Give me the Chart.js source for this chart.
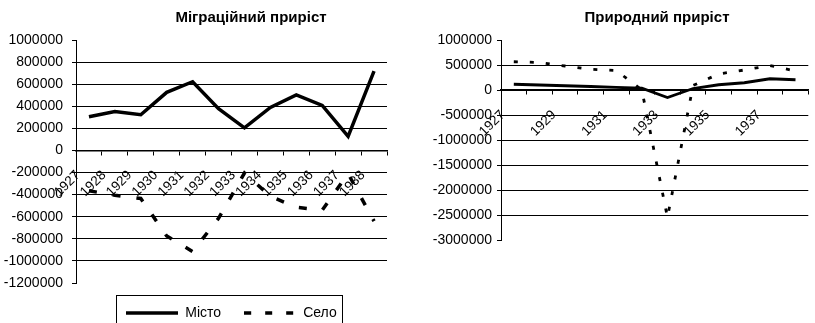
<!DOCTYPE html>
<html>
<head>
<meta charset="utf-8">
<script src="https://cdn.jsdelivr.net/npm/chart.js@4/dist/chart.umd.min.js"></script>
<style>
  html, body { margin: 0; padding: 0; background: #fff; overflow: hidden; }
  #wrap { position: relative; width: 815px; height: 323px; overflow: hidden; background: #fff; }
  #migChart { position: absolute; left: 0; top: 0; }
  #natChart { position: absolute; left: 400px; top: 0; }
</style>
</head>
<body>
<div id="wrap">
  <canvas id="migChart" width="400" height="340"></canvas>
  <canvas id="natChart" width="420" height="323"></canvas>
</div>
<script>
// values
const YEARS = ['1927', '1928', '1929', '1930', '1931', '1932', '1933', '1934', '1935', '1936', '1937', '1938'];
const NAT_TICKS = ['1927', '', '1929', '', '1931', '', '1933', '', '1935', '', '1937', ''];

const MIG_CITY = [305000, 352000, 323000, 526000, 622000, 378000, 205000, 390000, 503000, 408000, 128000, 718000];
const MIG_VILLAGE = [-365000, -405000, -435000, -775000, -915000, -615000, -205000, -415000, -515000, -540000, -210000, -640000];

const NAT_CITY = [115000, 100000, 85000, 70000, 52000, 35000, -150000, 30000, 105000, 145000, 225000, 205000];
const NAT_VILLAGE = [565000, 550000, 480000, 415000, 390000, 0, -2550000, 90000, 320000, 400000, 490000, 380000];

const SERIES_NAMES = ['Місто', 'Село'];

Chart.defaults.font.family = '"Liberation Sans", Arial, sans-serif';
Chart.defaults.color = '#000';

// title drawn at a chosen centre, Excel did not centre it on the plot
const sideTitle = {
  id: 'sideTitle',
  afterDraw(chart, args, opts) {
    const ctx = chart.ctx;
    ctx.save();
    ctx.font = 'bold 15px "Liberation Sans", Arial, sans-serif';
    ctx.fillStyle = '#000';
    ctx.textAlign = 'center';
    ctx.textBaseline = 'middle';
    ctx.fillText(opts.text, opts.x, opts.y);
    ctx.restore();
  }
};

// thin frame round the legend, as in the original
const legendFrame = {
  id: 'legendFrame',
  afterDraw(chart) {
    const lg = chart.legend;
    if (!lg || !lg.legendHitBoxes || !lg.legendHitBoxes.length) return;
    const boxes = lg.legendHitBoxes;
    const left = Math.min(...boxes.map(b => b.left)) - 10;
    const right = Math.max(...boxes.map(b => b.left + b.width)) + 6;
    const top = boxes[0].top - 11;
    const ctx = chart.ctx;
    ctx.save();
    ctx.strokeStyle = '#000';
    ctx.lineWidth = 1;
    ctx.strokeRect(Math.round(left) + 0.5, Math.round(top) + 0.5, Math.round(right - left), 60);
    ctx.restore();
  }
};

// legend swatches: the built-in 'line' point style ignores the dash
function swatch(width, dash) {
  const c = document.createElement('canvas');
  c.width = 52;
  c.height = 6;
  const g = c.getContext('2d');
  g.strokeStyle = '#000';
  g.lineWidth = width;
  g.setLineDash(dash);
  g.beginPath();
  g.moveTo(0, 3);
  g.lineTo(52, 3);
  g.stroke();
  return c;
}
const SWATCHES = [swatch(3.5, []), swatch(3.5, [7, 14])];

function yAxis(min, max, step, width, pad) {
  return {
    min, max,
    afterFit: s => { s.width = width; },
    ticks: { stepSize: step, padding: pad, font: { size: 14 }, callback: v => String(v) },
    grid: {
      color: c => (c.tick && (c.tick.value === min || c.tick.value === max)) ? 'rgba(0,0,0,0)' : '#000',
      tickColor: '#000',
      tickLength: 4,
      lineWidth: 1,
    },
    border: { display: true, color: '#000', width: 1 },
  };
}

function xAxis(tickLabels) {
  return {
    type: 'category',
    position: { y: 0 },
    offset: true,
    grid: { drawOnChartArea: false, offset: true, tickLength: 4, tickColor: '#000', color: '#000' },
    border: { display: true, color: '#000', width: 1.5 },
    ticks: {
      autoSkip: false,
      minRotation: 45,
      maxRotation: 45,
      padding: 13,
      labelOffset: -11,
      font: { size: 13.5 },
      callback: (v, i) => tickLabels[i],
    },
  };
}

function lineSet(label, data, width, dash) {
  return {
    label,
    data,
    borderColor: '#000',
    backgroundColor: '#000',
    borderWidth: width,
    borderDash: dash,
    borderCapStyle: 'butt',
    pointRadius: 0,
    tension: 0,
    fill: false,
  };
}

new Chart(document.getElementById('migChart'), {
  type: 'line',
  data: {
    labels: YEARS,
    datasets: [
      lineSet(SERIES_NAMES[0], MIG_CITY, 3.5, []),
      lineSet(SERIES_NAMES[1], MIG_VILLAGE, 3.5, [8, 16]),
    ],
  },
  options: {
    responsive: false,
    animation: false,
    devicePixelRatio: 1,
    events: [],
    layout: { padding: { top: 40, right: 13, bottom: 10, left: 0 } },
    plugins: {
      sideTitle: { text: 'Міграційний приріст', x: 251, y: 18 },
      tooltip: { enabled: false },
      legend: {
        position: 'bottom',
        fullSize: false,
        labels: {
          usePointStyle: true,
          pointStyleWidth: 52,
          padding: 23,
          font: { size: 14 },
          color: '#000',
          generateLabels: chart => Chart.defaults.plugins.legend.labels.generateLabels(chart)
            .map((item, i) => Object.assign(item, { pointStyle: SWATCHES[i] })),
        },
      },
    },
    scales: {
      x: xAxis(YEARS),
      y: yAxis(-1200000, 1000000, 200000, 76, 9),
    },
  },
  plugins: [sideTitle, legendFrame],
});

new Chart(document.getElementById('natChart'), {
  type: 'line',
  data: {
    labels: YEARS,
    datasets: [
      lineSet(SERIES_NAMES[0], NAT_CITY, 2.8, []),
      lineSet(SERIES_NAMES[1], NAT_VILLAGE, 2.8, [4, 12]),
    ],
  },
  options: {
    responsive: false,
    animation: false,
    devicePixelRatio: 1,
    events: [],
    layout: { padding: { top: 40, right: 1, bottom: 83, left: 0 } },
    plugins: {
      sideTitle: { text: 'Природний приріст', x: 257, y: 18 },
      tooltip: { enabled: false },
      legend: { display: false },
    },
    scales: {
      x: xAxis(NAT_TICKS),
      y: yAxis(-3000000, 1000000, 500000, 101, 5),
    },
  },
  plugins: [sideTitle],
});
</script>
</body>
</html>
